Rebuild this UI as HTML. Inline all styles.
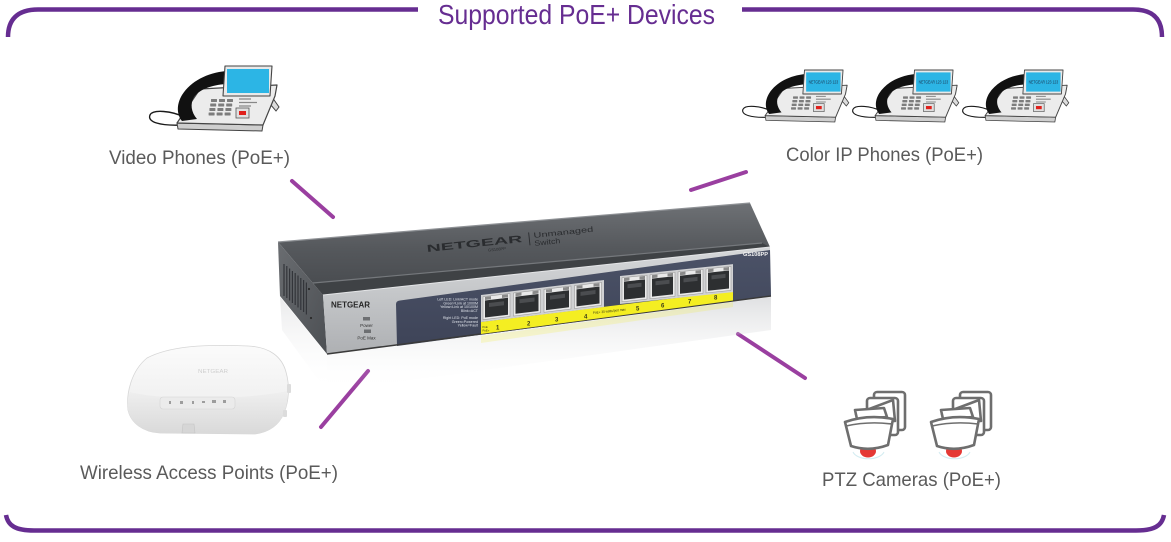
<!DOCTYPE html>
<html><head><meta charset="utf-8"><style>
html,body{margin:0;padding:0;background:#fff;}
svg{display:block;}
text{font-family:"Liberation Sans",sans-serif;}
</style></head><body>
<svg width="1171" height="542" viewBox="0 0 1171 542" xmlns="http://www.w3.org/2000/svg">
<defs>
<linearGradient id="topg" x1="0" y1="0" x2="0" y2="1"><stop offset="0" stop-color="#6e7175"/><stop offset="0.5" stop-color="#55585c"/><stop offset="1" stop-color="#46494d"/></linearGradient>
<linearGradient id="sideg" x1="0" y1="0" x2="1" y2="1"><stop offset="0" stop-color="#6a6d71"/><stop offset="1" stop-color="#4c4f53"/></linearGradient>
<linearGradient id="frontg" x1="0" y1="0" x2="0" y2="1"><stop offset="0" stop-color="#d6d8da"/><stop offset="1" stop-color="#aeb0b3"/></linearGradient>
<linearGradient id="navyg" x1="0" y1="0" x2="0" y2="1"><stop offset="0" stop-color="#4b5267"/><stop offset="1" stop-color="#3e4458"/></linearGradient>
<linearGradient id="reflg" x1="0" y1="0" x2="0" y2="1"><stop offset="0" stop-color="#b4b6ba" stop-opacity="0.42"/><stop offset="1" stop-color="#ffffff" stop-opacity="0"/></linearGradient>
<linearGradient id="apg" x1="0" y1="0" x2="0" y2="1"><stop offset="0" stop-color="#fbfbfb"/><stop offset="0.6" stop-color="#f1f1f1"/><stop offset="1" stop-color="#e2e2e2"/></linearGradient>
<linearGradient id="apb" x1="0" y1="0" x2="0" y2="1"><stop offset="0" stop-color="#efefef"/><stop offset="1" stop-color="#d9d9d9"/></linearGradient>

<g id="phone">
 <path d="M184,117 C172,111 153,109 150,115 C147,122 160,126 182,125" fill="none" stroke="#1a1a1a" stroke-width="1.4"/>
 <path d="M272,97 L279,107 L276,111 L270,104 Z" fill="#ddd" stroke="#444" stroke-width="1"/>
 <path d="M177,123 L263,125 L262,131 L178,129 Z" fill="#cfcfcf" stroke="#444" stroke-width="1" stroke-linejoin="round"/>
 <path d="M200,89 L277,85 L275,96 L263,125 L177,123 Z" fill="#ececec" stroke="#444" stroke-width="1.2" stroke-linejoin="round"/>
 <path d="M226,71 C207,73 191,81 182,95 C176,105 177,115 182,121 L197,119 C191,112 190,104 194,97 C200,89 212,85 226,84 Z" fill="#111"/>
 <path d="M225,66 L272,66 L270,96 L223,96 Z" fill="#e9e9e9" stroke="#444" stroke-width="1.1" stroke-linejoin="round"/>
 <rect x="227" y="69" width="42" height="24" fill="#2cb5e5"/>
 <g fill="#7d7d7d">
  <rect x="211" y="99" width="6" height="3" rx="0.5"/><rect x="219" y="99" width="6" height="3" rx="0.5"/><rect x="227" y="99" width="6" height="3" rx="0.5"/>
  <rect x="210.2" y="103.5" width="6" height="3" rx="0.5"/><rect x="218.2" y="103.5" width="6" height="3" rx="0.5"/><rect x="226.2" y="103.5" width="6" height="3" rx="0.5"/>
  <rect x="209.4" y="108" width="6" height="3" rx="0.5"/><rect x="217.4" y="108" width="6" height="3" rx="0.5"/><rect x="225.4" y="108" width="6" height="3" rx="0.5"/>
  <rect x="208.6" y="112.5" width="6" height="3" rx="0.5"/><rect x="216.6" y="112.5" width="6" height="3" rx="0.5"/><rect x="224.6" y="112.5" width="6" height="3" rx="0.5"/>
 </g>
 <path d="M239,99 H251 M239,102.5 H257 M239,106 H251" stroke="#888" stroke-width="1.3"/>
 <rect x="236" y="108" width="13" height="10" fill="#e0e0e0" stroke="#555" stroke-width="0.8"/>
 <rect x="239" y="111" width="7" height="4" fill="#e0201c"/>
</g>

<g id="cam" fill="#fff" stroke="#6e6e6e" stroke-width="2.6" stroke-linejoin="round">
 <rect x="874" y="392" width="31" height="38" rx="3"/>
 <rect x="867" y="398" width="31" height="37" rx="3"/>
 <path d="M856,414 L893,400 L895,421 L858,421 Z"/>
 <path d="M855,410 L884,408 L887,417 L857,419 Z"/>
 <path d="M853,452 A16,9 0 0 0 884,452" fill="none" stroke="#d3ecf1" stroke-width="1"/>
 <ellipse cx="868" cy="451" rx="8" ry="6.5" fill="#e53935" stroke="none"/>
 <path d="M845,422 Q868,414 893,419 L888,445 Q869,452 851,446 Z"/>
 <path d="M846,426 Q868,421 892,424" fill="none" stroke-width="1.6"/>
</g>
</defs>

<!-- Frame -->
<g fill="none" stroke="#662d91" stroke-width="4.5" stroke-linecap="butt">
 <path d="M8,37 C8,20 17,9.5 38,9.5 L418,9.5"/>
 <path d="M742,9.5 L1133,9.5 C1154,9.5 1162,20 1162,37"/>
 <path d="M6,515 C8,526 16,530.5 34,530.5 L1136,530.5 C1154,530.5 1162,526 1164,515"/>
</g>
<text x="438" y="24" font-size="28" fill="#662d91" textLength="277" lengthAdjust="spacingAndGlyphs">Supported PoE+ Devices</text>

<!-- Video phone -->
<use href="#phone"/>

<!-- Color IP phones -->
<g transform="translate(743,70) scale(0.82,0.8) translate(-150,-66)"><use href="#phone"/><text x="248" y="83" font-size="6" text-anchor="middle" fill="#1b2f4a" textLength="36" lengthAdjust="spacingAndGlyphs">NETGEAR 123 123</text></g>
<g transform="translate(853,70) scale(0.82,0.8) translate(-150,-66)"><use href="#phone"/><text x="248" y="83" font-size="6" text-anchor="middle" fill="#1b2f4a" textLength="36" lengthAdjust="spacingAndGlyphs">NETGEAR 123 123</text></g>
<g transform="translate(963,70) scale(0.82,0.8) translate(-150,-66)"><use href="#phone"/><text x="248" y="83" font-size="6" text-anchor="middle" fill="#1b2f4a" textLength="36" lengthAdjust="spacingAndGlyphs">NETGEAR 123 123</text></g>

<!-- Labels -->
<g fill="#5a5a5a" font-size="19.5">
 <text x="109" y="164" textLength="181" lengthAdjust="spacingAndGlyphs">Video Phones (PoE+)</text>
 <text x="786" y="161" textLength="197" lengthAdjust="spacingAndGlyphs">Color IP Phones (PoE+)</text>
 <text x="80" y="479" textLength="258" lengthAdjust="spacingAndGlyphs">Wireless Access Points (PoE+)</text>
 <text x="822" y="486" textLength="179" lengthAdjust="spacingAndGlyphs">PTZ Cameras (PoE+)</text>
</g>

<!-- Connectors -->
<g stroke="#9a3fa0" stroke-width="4" stroke-linecap="round">
 <line x1="292" y1="181" x2="333" y2="217"/>
 <line x1="691" y1="190" x2="746" y2="172"/>
 <line x1="738" y1="334" x2="805" y2="378"/>
 <line x1="321" y1="427" x2="368" y2="371"/>
</g>

<!-- Switch reflection -->
<polygon points="327,355 771,297 771,330 327,392" fill="url(#reflg)"/>
<polygon points="280,297 327,355 327,392 282,330" fill="url(#reflg)" opacity="0.7"/>
<polygon points="481,336 733,302 733,307 481,343" fill="#f4ee22" opacity="0.2"/>

<!-- Switch top face -->
<polygon points="278,242 750,203 770,247 323,295" fill="url(#topg)"/>
<polygon points="313,283 762,243 770,247 323,295" fill="#3f4245"/>
<line x1="313" y1="283" x2="762" y2="243" stroke="#75787c" stroke-width="1.2"/>
<line x1="278" y1="242" x2="750" y2="203" stroke="#8e9195" stroke-width="1.2"/>
<g fill="#2a2c2f" transform="rotate(-6 427 252)">
 <text x="427" y="252" font-size="10" font-weight="bold" textLength="96" lengthAdjust="spacingAndGlyphs">NETGEAR</text>
 <text x="488" y="258" font-size="4">GS108PP</text>
</g>
<g fill="#2a2c2f" transform="rotate(-6 533 240)">
 <rect x="529" y="232" width="0.9" height="13"/>
 <text x="534" y="238" font-size="7.5" textLength="60" lengthAdjust="spacingAndGlyphs">Unmanaged</text>
 <text x="534" y="246" font-size="7.5" textLength="26" lengthAdjust="spacingAndGlyphs">Switch</text>
</g>

<!-- Switch side face -->
<polygon points="278,242 323,295 327,354 280,296" fill="url(#sideg)"/>
<g stroke="#33353a" stroke-width="1.2">
 <line x1="284" y1="264" x2="284" y2="296"/><line x1="286.8" y1="266" x2="286.8" y2="298"/><line x1="289.6" y1="268.5" x2="289.6" y2="300.5"/><line x1="292.4" y1="271" x2="292.4" y2="303"/><line x1="295.2" y1="273" x2="295.2" y2="305"/><line x1="298" y1="275.5" x2="298" y2="307.5"/><line x1="300.8" y1="278" x2="300.8" y2="310"/><line x1="303.6" y1="280" x2="303.6" y2="312"/><line x1="306.4" y1="282.5" x2="306.4" y2="314.5"/>
</g>
<circle cx="309" cy="289" r="1.1" fill="#2a2a2a"/><circle cx="311" cy="318" r="1.1" fill="#2a2a2a"/>

<!-- Switch front face -->
<polygon points="323,295 770,247 771,296 327,354" fill="url(#frontg)"/>
<line x1="323" y1="295" x2="770" y2="247" stroke="#e4e5e7" stroke-width="1"/>
<path d="M396,304 Q396,301 400,300.5 L770,250 L771,296 L397,346 Z" fill="url(#navyg)"/>
<line x1="327" y1="354" x2="771" y2="296" stroke="#3a3a3a" stroke-width="1.5"/>
<text x="331" y="307.5" font-size="8.5" font-weight="bold" fill="#262626" textLength="39" lengthAdjust="spacingAndGlyphs">NETGEAR</text>
<rect x="363" y="317" width="7" height="3.5" fill="#6d6f72"/>
<text x="366.5" y="327" font-size="4.5" fill="#333" text-anchor="middle">Power</text>
<rect x="364" y="329.5" width="7" height="3.5" fill="#6d6f72"/>
<text x="366.5" y="339.5" font-size="4.5" fill="#333" text-anchor="middle">PoE Max</text>
<g fill="#dfe3ea" font-size="3.6" text-anchor="end">
 <text x="478" y="300.5">Left LED: Link/ACT mode</text>
 <text x="478" y="304.3">Green=Link at 1000M</text>
 <text x="478" y="308.1">Yellow=Link at 10/100M</text>
 <text x="478" y="311.9">Blink=ACT</text>
 <text x="478" y="319">Right LED: PoE mode</text>
 <text x="478" y="322.8">Green=Powered</text>
 <text x="478" y="326.6">Yellow=Fault</text>
</g>
<text x="743" y="256" font-size="5.5" font-weight="bold" fill="#f2f2f2" textLength="25" lengthAdjust="spacingAndGlyphs">GS108PP</text>

<!-- Yellow strip -->
<polygon points="481,322 733,291 733,300.5 481,334" fill="#f4ee22"/>
<g font-size="6" font-weight="bold" fill="#3a3a1a">
 <text x="496" y="329.5">1</text><text x="527" y="325.5">2</text><text x="555" y="321.5">3</text><text x="584" y="318.5">4</text>
 <text x="636" y="310.5">5</text><text x="661" y="307.5">6</text><text x="688" y="303.5">7</text><text x="714" y="299.5">8</text>
</g>
<text x="593" y="314" font-size="3.5" fill="#3a3a1a" textLength="33" lengthAdjust="spacingAndGlyphs" transform="rotate(-6 593 314)">PoE+ 30 watts/port max</text>
<text x="482.5" y="328" font-size="2.8" fill="#3a3a1a">PoE</text>
<text x="482.5" y="331.5" font-size="2.8" fill="#3a3a1a">PoE+</text>

<!-- Port group 1 -->
<g transform="matrix(1,-0.122,0,1,481,295)">
 <rect x="0" y="0" width="123" height="27" fill="#d0d1d3"/>
 <g>
  <rect x="2" y="2" width="27" height="23" fill="#e9e9e9" stroke="#9a9a9a" stroke-width="0.6"/><rect x="4" y="6" width="23" height="17" fill="#2d2f31"/><rect x="8" y="9" width="15" height="4" fill="#4b4d50"/><rect x="4" y="2.5" width="6" height="3" fill="#8a8a8a"/><rect x="21" y="2.5" width="6" height="3" fill="#8a8a8a"/>
  <rect x="32.5" y="2" width="27" height="23" fill="#e9e9e9" stroke="#9a9a9a" stroke-width="0.6"/><rect x="34.5" y="6" width="23" height="17" fill="#2d2f31"/><rect x="38.5" y="9" width="15" height="4" fill="#4b4d50"/><rect x="34.5" y="2.5" width="6" height="3" fill="#8a8a8a"/><rect x="51.5" y="2.5" width="6" height="3" fill="#8a8a8a"/>
  <rect x="63" y="2" width="27" height="23" fill="#e9e9e9" stroke="#9a9a9a" stroke-width="0.6"/><rect x="65" y="6" width="23" height="17" fill="#2d2f31"/><rect x="69" y="9" width="15" height="4" fill="#4b4d50"/><rect x="65" y="2.5" width="6" height="3" fill="#8a8a8a"/><rect x="82" y="2.5" width="6" height="3" fill="#8a8a8a"/>
  <rect x="93.5" y="2" width="27" height="23" fill="#e9e9e9" stroke="#9a9a9a" stroke-width="0.6"/><rect x="95.5" y="6" width="23" height="17" fill="#2d2f31"/><rect x="99.5" y="9" width="15" height="4" fill="#4b4d50"/><rect x="95.5" y="2.5" width="6" height="3" fill="#8a8a8a"/><rect x="112.5" y="2.5" width="6" height="3" fill="#8a8a8a"/>
 </g>
</g>
<!-- Port group 2 -->
<g transform="matrix(1,-0.105,0,1,620,276)">
 <rect x="0" y="0" width="113" height="28" fill="#d0d1d3"/>
 <rect x="2" y="2" width="25" height="24" fill="#e9e9e9" stroke="#9a9a9a" stroke-width="0.6"/><rect x="4" y="6" width="21" height="18" fill="#2d2f31"/><rect x="7.5" y="9" width="14" height="4" fill="#4b4d50"/><rect x="4" y="2.5" width="5.5" height="3" fill="#8a8a8a"/><rect x="19.5" y="2.5" width="5.5" height="3" fill="#8a8a8a"/>
 <rect x="30" y="2" width="25" height="24" fill="#e9e9e9" stroke="#9a9a9a" stroke-width="0.6"/><rect x="32" y="6" width="21" height="18" fill="#2d2f31"/><rect x="35.5" y="9" width="14" height="4" fill="#4b4d50"/><rect x="32" y="2.5" width="5.5" height="3" fill="#8a8a8a"/><rect x="47.5" y="2.5" width="5.5" height="3" fill="#8a8a8a"/>
 <rect x="58" y="2" width="25" height="24" fill="#e9e9e9" stroke="#9a9a9a" stroke-width="0.6"/><rect x="60" y="6" width="21" height="18" fill="#2d2f31"/><rect x="63.5" y="9" width="14" height="4" fill="#4b4d50"/><rect x="60" y="2.5" width="5.5" height="3" fill="#8a8a8a"/><rect x="75.5" y="2.5" width="5.5" height="3" fill="#8a8a8a"/>
 <rect x="86" y="2" width="25" height="24" fill="#e9e9e9" stroke="#9a9a9a" stroke-width="0.6"/><rect x="88" y="6" width="21" height="18" fill="#2d2f31"/><rect x="91.5" y="9" width="14" height="4" fill="#4b4d50"/><rect x="88" y="2.5" width="5.5" height="3" fill="#8a8a8a"/><rect x="103.5" y="2.5" width="5.5" height="3" fill="#8a8a8a"/>
</g>

<!-- Access point -->
<path d="M147,358 C170,346 205,344 248,346 C270,347 282,357 286,372 C290,386 289,401 284,413 C279,425 270,432 255,434 L160,433 C143,432 131,423 128,410 C126,394 131,371 147,358 Z" fill="url(#apg)" stroke="#d6d6d6" stroke-width="0.8"/>
<path d="M130,392 C160,400 240,401 287,391 C288,401 286,408 284,413 C279,425 270,432 255,434 L160,433 C143,432 131,423 128,410 C127,403 128,397 130,392 Z" fill="url(#apb)"/>
<rect x="160" y="397" width="75" height="12" rx="3" fill="#ebebeb" stroke="#d4d4d4" stroke-width="0.6"/>
<g fill="#9d9d9d"><rect x="169" y="401" width="2" height="3"/><rect x="180" y="401" width="3" height="3"/><rect x="192" y="401" width="2" height="3"/><rect x="202" y="401" width="3" height="2"/><rect x="212" y="400" width="4" height="3"/><rect x="223" y="400" width="3" height="3"/></g>
<path d="M182,433 L183,424 L194,424 L195,433 Z" fill="#d6d6d6" stroke="#c4c4c4" stroke-width="0.6"/>
<rect x="287" y="384" width="4" height="9" rx="1" fill="#dcdcdc"/>
<rect x="283" y="410" width="4" height="7" rx="1" fill="#dcdcdc"/>
<text x="198" y="373" font-size="5" fill="#cfcfcf" textLength="30" lengthAdjust="spacingAndGlyphs">NETGEAR</text>

<!-- Cameras -->
<use href="#cam"/>
<use href="#cam" x="86"/>
</svg>
</body></html>
